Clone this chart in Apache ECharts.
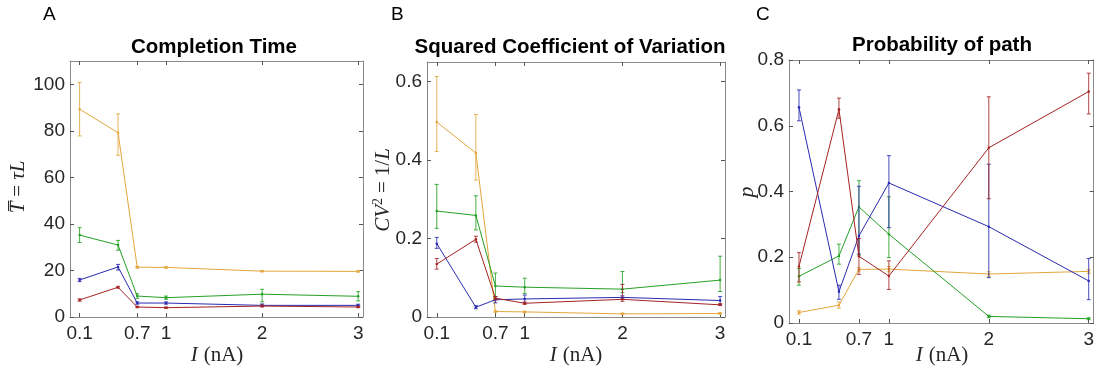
<!DOCTYPE html>
<html><head><meta charset="utf-8">
<script src="https://cdn.jsdelivr.net/npm/echarts@6/dist/echarts.min.js"></script>
<style>html,body{margin:0;padding:0;background:#fff}#c{width:1097px;height:372px}</style>
</head><body><div id="c"></div>
<script>
// ---------- data ----------
const xs = [0.1, 0.5, 0.7, 1, 2, 3];
const xTickValues = [0.1, 0.7, 1, 2, 3];
const yTicksA = [0, 20, 40, 60, 80, 100];
const yTicksB = [0, 0.2, 0.4, 0.6];
const yTicksC = [0, 0.2, 0.4, 0.6, 0.8];
const seriesColors = ['#E3A63C', '#25A025', '#2A2AB2', '#A52323'];

// Panel A: completion time
const A_yellow = [89.3, 79.2, 21.4, 21.3, 19.7, 19.6];
const A_yellow_lo = [77.8, 69.5, 21.0, 21.0, 19.4, 19.3];
const A_yellow_hi = [100.8, 87.3, 21.8, 21.6, 20.0, 19.9];
const A_green = [35.2, 30.9, 9.0, 8.3, 9.8, 8.9];
const A_green_lo = [32.0, 28.7, 8.0, 7.6, 6.5, 6.9];
const A_green_hi = [38.4, 32.9, 10.0, 9.0, 11.9, 10.9];
const A_blue = [15.9, 21.5, 6.0, 6.0, 5.0, 5.0];
const A_blue_lo = [15.2, 20.2, 5.5, 5.5, 4.5, 4.5];
const A_blue_hi = [16.6, 22.6, 6.5, 6.5, 5.6, 5.5];
const A_red = [7.3, 12.8, 4.3, 4.0, 4.7, 4.3];
const A_red_lo = [6.8, 12.4, 4.0, 3.7, 4.3, 4.0];
const A_red_hi = [7.8, 13.2, 4.6, 4.3, 5.1, 4.6];

// Panel B: squared coefficient of variation
const B_yellow = [0.497, 0.418, 0.014, 0.013, 0.008, 0.009];
const B_yellow_lo = [0.422, 0.349, 0.012, 0.011, 0.006, 0.007];
const B_yellow_hi = [0.613, 0.516, 0.016, 0.015, 0.010, 0.011];
const B_green = [0.270, 0.259, 0.079, 0.076, 0.071, 0.094];
const B_green_lo = [0.226, 0.222, 0.046, 0.060, 0.062, 0.065];
const B_green_hi = [0.338, 0.309, 0.112, 0.099, 0.116, 0.155];
const B_blue = [0.187, 0.025, 0.044, 0.046, 0.050, 0.042];
const B_blue_lo = [0.175, 0.021, 0.036, 0.036, 0.046, 0.032];
const B_blue_hi = [0.203, 0.029, 0.052, 0.056, 0.054, 0.052];
const B_red = [0.135, 0.198, 0.048, 0.035, 0.045, 0.031];
const B_red_lo = [0.122, 0.191, 0.044, 0.032, 0.040, 0.029];
const B_red_hi = [0.149, 0.206, 0.052, 0.038, 0.083, 0.034];

// Panel C: probability of path
const C_yellow = [0.032, 0.054, 0.163, 0.164, 0.149, 0.157];
const C_yellow_lo = [0.027, 0.045, 0.158, 0.156, 0.142, 0.151];
const C_yellow_hi = [0.037, 0.064, 0.168, 0.172, 0.156, 0.163];
const C_green = [0.142, 0.204, 0.353, 0.270, 0.020, 0.013];
const C_green_lo = [0.115, 0.179, 0.207, 0.199, 0.016, 0.010];
const C_green_hi = [0.166, 0.240, 0.433, 0.384, 0.024, 0.016];
const C_blue = [0.656, 0.095, 0.265, 0.426, 0.293, 0.128];
const C_blue_lo = [0.615, 0.072, 0.210, 0.290, 0.138, 0.071];
const C_blue_hi = [0.709, 0.115, 0.416, 0.509, 0.483, 0.196];
const C_red = [0.172, 0.650, 0.203, 0.143, 0.533, 0.704];
const C_red_lo = [0.125, 0.623, 0.148, 0.102, 0.378, 0.636];
const C_red_hi = [0.214, 0.684, 0.257, 0.189, 0.688, 0.760];

// ---------- build ----------
const panels = [
  {grid:{left:70, top:61, width:293, height:256}, ymax:110, yticks:yTicksA,
   sets:[[A_yellow,A_yellow_lo,A_yellow_hi],[A_green,A_green_lo,A_green_hi],[A_blue,A_blue_lo,A_blue_hi],[A_red,A_red_lo,A_red_hi]]},
  {grid:{left:427, top:62, width:298, height:255}, ymax:0.65, yticks:yTicksB,
   sets:[[B_yellow,B_yellow_lo,B_yellow_hi],[B_green,B_green_lo,B_green_hi],[B_blue,B_blue_lo,B_blue_hi],[B_red,B_red_lo,B_red_hi]]},
  {grid:{left:789, top:60, width:306, height:263}, ymax:0.8, yticks:yTicksC,
   sets:[[C_yellow,C_yellow_lo,C_yellow_hi],[C_green,C_green_lo,C_green_hi],[C_blue,C_blue_lo,C_blue_hi],[C_red,C_red_lo,C_red_hi]]}
];

const sansFont = '"Liberation Sans", Arial, Helvetica, sans-serif';
const serifFont = '"Liberation Serif", "DejaVu Serif", serif';
const axisLineStyle = {color:'#8a8a8a', width:1};
const tickStyle = {color:'#555', width:1};

const grids = [], xAxes = [], yAxes = [], series = [];
panels.forEach((p, k) => {
  grids.push(Object.assign({containLabel:false}, p.grid));
  const xBase = {gridIndex:k, type:'value', min:0, max:3.05,
    axisLine:{show:true, onZero:false, lineStyle:axisLineStyle},
    axisTick:{show:true, inside:true, length:4, customValues:xTickValues, lineStyle:tickStyle},
    splitLine:{show:false}};
  xAxes.push(Object.assign({}, xBase, {position:'bottom',
    axisLabel:{show:true, customValues:xTickValues, fontSize:19, color:'#262626', fontFamily:sansFont, margin:7}}));
  xAxes.push(Object.assign({}, xBase, {position:'top', axisLabel:{show:false}}));
  const yBase = {gridIndex:k, type:'value', min:0, max:p.ymax,
    axisLine:{show:true, onZero:false, lineStyle:axisLineStyle},
    axisTick:{show:true, inside:true, length:4, customValues:p.yticks, lineStyle:tickStyle},
    splitLine:{show:false}};
  yAxes.push(Object.assign({}, yBase, {position:'left',
    axisLabel:{show:true, customValues:p.yticks, fontSize:19, color:'#262626', fontFamily:sansFont, margin:5}}));
  yAxes.push(Object.assign({}, yBase, {position:'right', axisLabel:{show:false}}));

  p.sets.forEach((s, j) => {
    const [v, lo, hi] = s;
    const color = seriesColors[j];
    series.push({type:'line', xAxisIndex:2*k, yAxisIndex:2*k, z:2+j,
      data: xs.map((x,i)=>[x, v[i]]), symbol:'circle', symbolSize:2.5,
      itemStyle:{color}, lineStyle:{color, width:1}, animation:false, silent:true});
    series.push({type:'custom', xAxisIndex:2*k, yAxisIndex:2*k, z:2+j,
      data: xs.map((x,i)=>[x, lo[i], hi[i]]), encode:{x:0, y:[1,2]}, animation:false, silent:true,
      renderItem:(params, api) => {
        const x = api.value(0);
        const a = api.coord([x, api.value(1)]);
        const b = api.coord([x, api.value(2)]);
        const w = 2;
        const st = {stroke:color, lineWidth:1, opacity:0.85};
        return {type:'group', children:[
          {type:'line', shape:{x1:a[0], y1:a[1], x2:b[0], y2:b[1]}, style:st},
          {type:'line', shape:{x1:a[0]-w, y1:a[1], x2:a[0]+w, y2:a[1]}, style:st},
          {type:'line', shape:{x1:b[0]-w, y1:b[1], x2:b[0]+w, y2:b[1]}, style:st}
        ]};
      }});
  });
});

const titleFont = 'bold 20.5px ' + sansFont;
const letterFont = '19px ' + sansFont;
const graphics = [
  {type:'text', x:43, y:15, style:{text:'A', font:letterFont, fill:'#000', textVerticalAlign:'middle'}},
  {type:'text', x:391, y:15, style:{text:'B', font:letterFont, fill:'#000', textVerticalAlign:'middle'}},
  {type:'text', x:756, y:15, style:{text:'C', font:letterFont, fill:'#000', textVerticalAlign:'middle'}},
  {type:'text', x:214, y:47, style:{text:'Completion Time', font:titleFont, fill:'#000', textAlign:'center', textVerticalAlign:'middle'}},
  {type:'text', x:570, y:47, style:{text:'Squared Coefficient of Variation', font:titleFont, fill:'#000', textAlign:'center', textVerticalAlign:'middle'}},
  {type:'text', x:942, y:45, style:{text:'Probability of path', font:titleFont, fill:'#000', textAlign:'center', textVerticalAlign:'middle'}},
];
const mathRich = {
  i:{fontFamily:serifFont, fontStyle:'italic', fontSize:21, fill:'#262626'},
  r:{fontFamily:serifFont, fontSize:21, fill:'#262626'},
  g:{fontFamily:serifFont, fontSize:21, fill:'#262626', padding:[0,0,0,6]},
  e:{fontFamily:serifFont, fontSize:21, fill:'#262626', padding:[0,5,0,5]},
  s:{fontFamily:serifFont, fontSize:14, fill:'#262626', verticalAlign:'top', padding:[0,0,9,0]}
};
const xNameCenters = [217, 576, 942];
xNameCenters.forEach(cx => graphics.push({type:'text', x:cx, y:355, style:{
  text:'{i|I}{g|(nA)}', textAlign:'center', textVerticalAlign:'middle', fill:'#262626', rich:mathRich}}));
graphics.push({type:'text', x:18, y:187, rotation:Math.PI/2, style:{
  text:'{i|T\u0305}{e|=}{i|\u03C4L}', textAlign:'center', textVerticalAlign:'middle', rich:mathRich}});
graphics.push({type:'text', x:383, y:190, rotation:Math.PI/2, style:{
  text:'{i|CV}{s|2}{e|=}{r|1/}{i|L}', textAlign:'center', textVerticalAlign:'middle', rich:mathRich}});
graphics.push({type:'text', x:747, y:192, rotation:Math.PI/2, style:{
  text:'p', textAlign:'center', textVerticalAlign:'middle', font:'italic 22px '+serifFont, fill:'#262626'}});

const chart = echarts.init(document.getElementById('c'), null, {renderer:'canvas'});
chart.setOption({animation:false, backgroundColor:'#fff', grid:grids, xAxis:xAxes, yAxis:yAxes, series, graphic:graphics});
</script></body></html>
